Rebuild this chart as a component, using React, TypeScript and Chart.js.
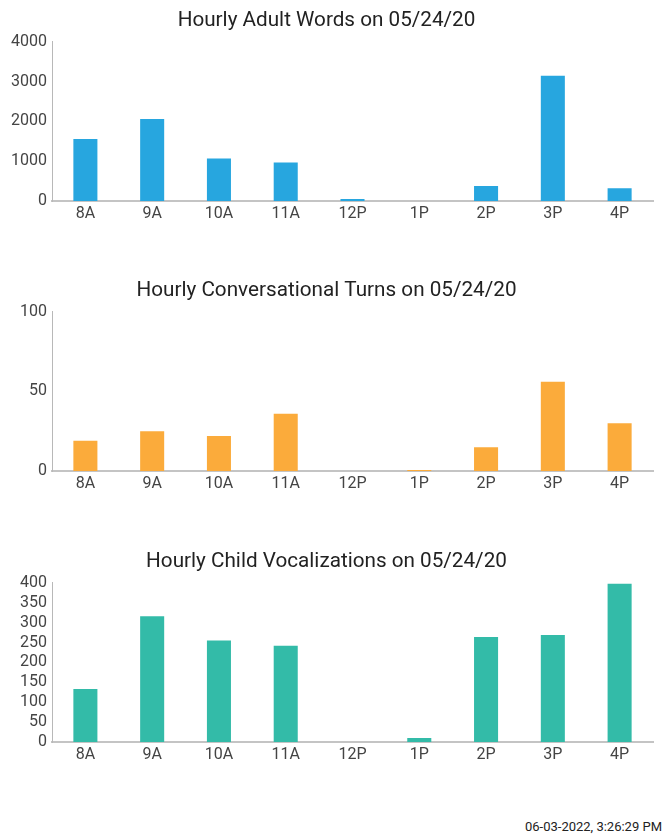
import React, { useEffect, useRef } from "react";
import { Chart, registerables } from "chart.js";

Chart.register(...registerables);

const hours = ["8A", "9A", "10A", "11A", "12P", "1P", "2P", "3P", "4P"];
const adultWords = [1560, 2060, 1070, 970, 50, 0, 380, 3150, 320];
const convTurns = [19, 25, 22, 36, 0, 0.7, 15, 56, 30];
const childVoc = [133, 316, 255, 242, 0, 10, 264, 269, 398];
const footerText = "06-03-2022, 3:26:29 PM";

type Props = {
  title: string;
  values: number[];
  color: string;
  max: number;
  step: number;
  top: number;
};

function BarPanel({ title, values, color, max, step, top }: Props) {
  const ref = useRef<HTMLCanvasElement | null>(null);
  useEffect(() => {
    if (!ref.current) return;
    const chart = new Chart(ref.current, {
      type: "bar",
      data: {
        labels: hours,
        datasets: [
          {
            data: values,
            backgroundColor: color,
            borderWidth: 0,
            categoryPercentage: 1,
            barPercentage: 0.36,
          },
        ],
      },
      options: {
        responsive: false,
        animation: false,
        layout: { padding: { left: 0, right: 12, top: 0, bottom: 0 } },
        plugins: {
          legend: { display: false },
          tooltip: { enabled: false },
          title: {
            display: true,
            text: title,
            color: "#222",
            font: { family: "Roboto", size: 20.7, weight: "normal" },
            padding: { top: 8, bottom: 9 },
          },
        },
        scales: {
          x: {
            grid: { display: false, drawTicks: false },
            border: { display: true, color: "#c4c4c4", width: 2 },
            ticks: {
              color: "#444",
              font: { family: "Roboto", size: 16 },
              padding: 3,
              maxRotation: 0,
              autoSkip: false,
            },
            afterFit: (s: any) => {
              s.height = 69;
            },
          },
          y: {
            min: 0,
            max: max,
            grid: { display: false, drawTicks: false },
            border: { display: true, color: "#b8b8b8", width: 1 },
            ticks: {
              stepSize: step,
              color: "#444",
              font: { family: "Roboto", size: 16 },
              padding: 5,
              autoSkip: false,
              callback: (v: any) => String(v),
            },
            afterFit: (s: any) => {
              s.width = 52;
            },
          },
        },
      },
    });
    return () => chart.destroy();
  }, [title, values, color, max, step]);
  return (
    <canvas
      ref={ref}
      width={665}
      height={270}
      style={{ position: "absolute", left: 0, top: top, display: "block" }}
    />
  );
}

export default function App() {
  return (
    <div
      style={{
        position: "absolute",
        left: 0,
        top: 0,
        width: 665,
        height: 834,
        background: "#fff",
        overflow: "hidden",
      }}
    >
      <BarPanel title="Hourly Adult Words on 05/24/20" values={adultWords} color="#27a6df" max={4000} step={1000} top={0} />
      <BarPanel title="Hourly Conversational Turns on 05/24/20" values={convTurns} color="#fbab3b" max={100} step={50} top={270} />
      <BarPanel title="Hourly Child Vocalizations on 05/24/20" values={childVoc} color="#33bba8" max={400} step={50} top={541} />
      <div
        style={{
          position: "absolute",
          right: 3,
          top: 819,
          fontFamily: "Roboto",
          fontSize: 13,
          color: "#222",
          whiteSpace: "nowrap",
        }}
      >
        {footerText}
      </div>
    </div>
  );
}
